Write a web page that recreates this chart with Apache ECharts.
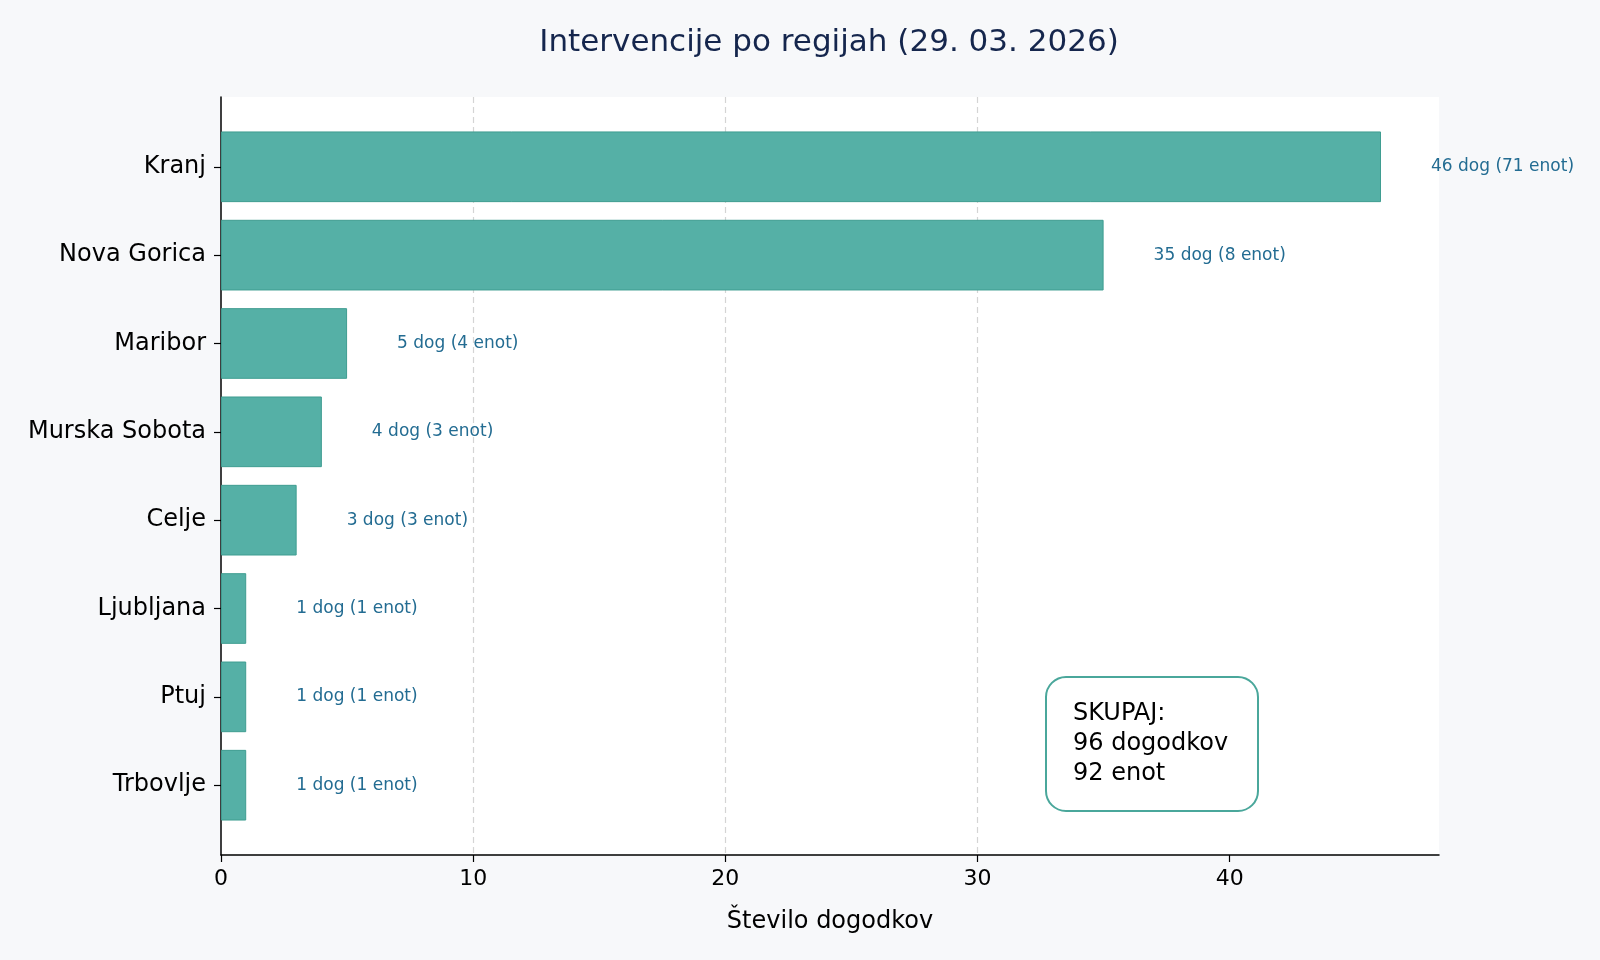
<!DOCTYPE html>
<html>
<head>
<meta charset="utf-8">
<script src="https://cdn.jsdelivr.net/npm/echarts@6/dist/echarts.min.js"></script>
<style>html,body{margin:0;padding:0;background:#f7f8fa}#c{width:1600px;height:960px}</style>
</head>
<body>
<div id="c"></div>
<script>
const categories = ['Kranj', 'Nova Gorica', 'Maribor', 'Murska Sobota', 'Celje', 'Ljubljana', 'Ptuj', 'Trbovlje'];
const events = [46, 35, 5, 4, 3, 1, 1, 1];
const units = [71, 8, 4, 3, 3, 1, 1, 1];
const xTicks = [0, 10, 20, 30, 40];
const titleText = 'Intervencije po regijah (29. 03. 2026)';
const xName = 'Število dogodkov';

const totalEvents = events.reduce((a, b) => a + b, 0);
const totalUnits = units.reduce((a, b) => a + b, 0);

const FONT = 'DejaVu Sans';
const L = 221, R = 161, T = 97, B = 105;
const unit = (960 - T - B) / 8.58;
const pad = 0.29 * unit;

const chart = echarts.init(document.getElementById('c'));
chart.setOption({
  backgroundColor: '#f7f8fa',
  textStyle: { fontFamily: FONT },
  title: {
    text: titleText, left: 824, top: 22, textAlign: 'center',
    textStyle: { fontFamily: FONT, fontSize: 31, fontWeight: 'normal', color: '#15264d' }
  },
  grid: [
    { left: L, right: R, top: T, bottom: B, show: true, backgroundColor: '#ffffff', borderWidth: 0 },
    { left: L, right: R, top: T + pad, bottom: B + pad }
  ],
  xAxis: [
    {
      gridIndex: 0, type: 'value', min: 0, max: 48.3, interval: 10,
      axisLine: { show: true, lineStyle: { color: '#000', width: 1.5 } },
      axisTick: { show: true, length: 7, customValues: xTicks, lineStyle: { color: '#000', width: 1.2 } },
      axisLabel: { customValues: xTicks, fontSize: 22, color: '#000', margin: 13, fontFamily: FONT },
      splitLine: { show: true, showMinLine: false, showMaxLine: false, lineStyle: { type: [6, 4], color: '#d4d4d4', width: 1.2 } },
      name: xName, nameLocation: 'middle', nameGap: 55,
      nameTextStyle: { fontSize: 24, color: '#000', fontFamily: FONT }
    },
    { gridIndex: 1, type: 'value', min: 0, max: 48.3, show: false }
  ],
  yAxis: [
    {
      gridIndex: 0, type: 'value', min: 0, max: 1,
      axisLine: { show: true, lineStyle: { color: '#000', width: 1.5 } },
      axisTick: { show: false }, axisLabel: { show: false }, splitLine: { show: false }
    },
    {
      gridIndex: 1, type: 'category', data: categories, inverse: true,
      axisLine: { show: false },
      axisTick: { show: true, alignWithLabel: true, length: 7, lineStyle: { color: '#000', width: 1.2 } },
      axisLabel: { fontSize: 24, color: '#000', margin: 15, fontFamily: FONT },
      splitLine: { show: false }
    }
  ],
  series: [{
    type: 'bar', xAxisIndex: 1, yAxisIndex: 1,
    data: events,
    barCategoryGap: '20%',
    itemStyle: { color: '#55b0a6', borderColor: '#3f9d91', borderWidth: 1 },
    label: {
      show: true, position: 'right', distance: 50,
      fontSize: 17, color: '#236c92', fontFamily: FONT,
      formatter: p => `${p.value} dog (${units[p.dataIndex]} enot)`
    }
  }],
  graphic: [{
    type: 'group', z: 100,
    children: [
      { type: 'rect', shape: { x: 1046, y: 677, width: 212, height: 134, r: 20 },
        style: { fill: 'rgba(255,255,255,0.85)', stroke: '#4aa79b', lineWidth: 2 } },
      { type: 'text', x: 1073, y: 699,
        style: { text: `SKUPAJ:\n${totalEvents} dogodkov\n${totalUnits} enot`, fontSize: 24, lineHeight: 30,
          fontFamily: FONT, fill: '#000', verticalAlign: 'top', align: 'left' } }
    ]
  }]
});
</script>
</body>
</html>
